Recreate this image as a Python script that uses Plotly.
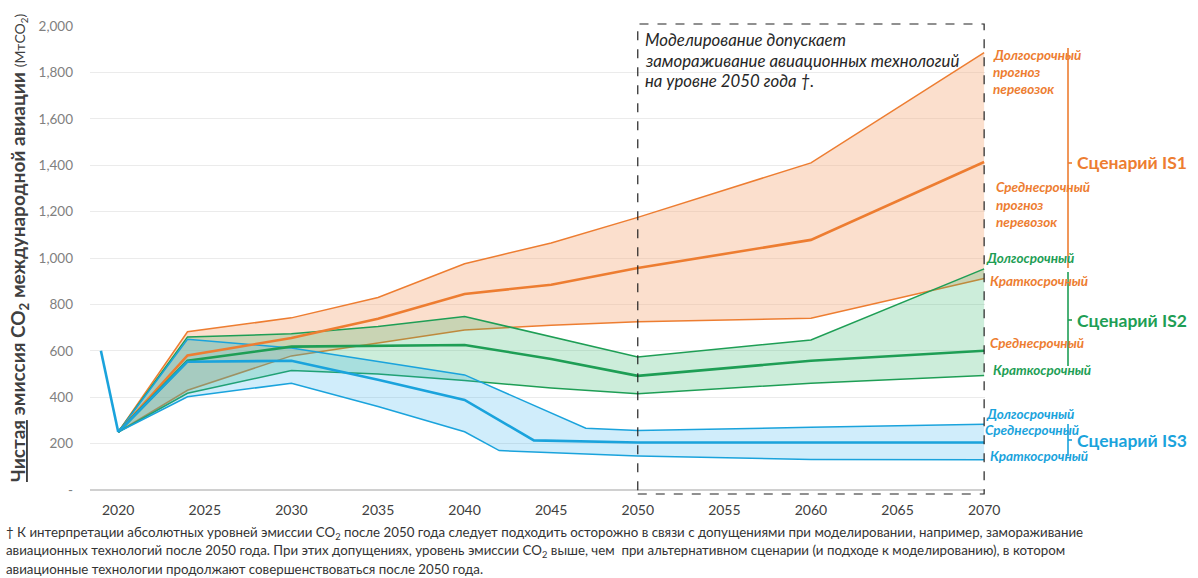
import plotly.graph_objects as go

# ---------------- data: net CO2 from international aviation, MtCO2 ----------------
hist_years = [2019, 2020]
hist_vals = [600, 250]

# IS1 scenario: long-, mid- and short-term traffic outlooks
is1_long_years = [2020, 2024, 2030, 2035, 2040, 2045, 2050, 2060, 2070]
is1_long = [250, 682, 742, 830, 975, 1065, 1175, 1410, 1885]
is1_mid_years = [2020, 2024, 2030, 2035, 2040, 2045, 2050, 2060, 2070]
is1_mid = [250, 580, 655, 738, 845, 885, 957, 1078, 1414]
is1_short_years = [2020, 2024, 2030, 2035, 2040, 2045, 2050, 2060, 2070]
is1_short = [250, 430, 578, 635, 690, 710, 725, 740, 912]

# IS2 scenario
is2_long_years = [2020, 2024, 2030, 2035, 2040, 2050, 2060, 2070]
is2_long = [250, 660, 673, 705, 748, 573, 647, 953]
is2_mid_years = [2020, 2024, 2030, 2035, 2040, 2045, 2050, 2060, 2070]
is2_mid = [250, 557, 618, 622, 625, 565, 492, 557, 600]
is2_short_years = [2020, 2024, 2030, 2035, 2040, 2045, 2050, 2060, 2070]
is2_short = [250, 417, 515, 500, 472, 440, 415, 460, 493]

# IS3 scenario
is3_long_years = [2020, 2024, 2030, 2035, 2040, 2047, 2050, 2060, 2070]
is3_long = [250, 650, 612, 553, 496, 266, 257, 270, 283]
is3_mid_years = [2020, 2024, 2030, 2035, 2040, 2044, 2050, 2060, 2070]
is3_mid = [250, 553, 557, 475, 388, 214, 205, 205, 205]
is3_short_years = [2020, 2024, 2030, 2035, 2040, 2042, 2050, 2060, 2070]
is3_short = [250, 402, 460, 360, 251, 170, 147, 132, 130]

x_ticks = [2020, 2025, 2030, 2035, 2040, 2045, 2050, 2055, 2060, 2065, 2070]
y_ticks = [0, 200, 400, 600, 800, 1000, 1200, 1400, 1600, 1800, 2000]
y_tick_text = ["-", "200", "400", "600", "800", "1,000", "1,200", "1,400",
               "1,600", "1,800", "2,000"]

# ---------------- styling ----------------
ORANGE = "#ED7D31"
GREEN = "#1E9E55"
BLUE = "#1AA3DC"
FILL_ORANGE = "rgba(246,178,135,0.42)"
FILL_GREEN = "rgba(40,180,100,0.24)"
FILL_BLUE = "rgba(40,175,235,0.22)"
FONT = "Lato"

W, H = 1198, 578
L, R, T, B = 90, 985, 26, 490  # plot area in pixels


def px(x):
    return (x - L) / (R - L)


def py(y):
    return (B - y) / (B - T)


fig = go.Figure()


def band(lo_x, lo_y, hi_x, hi_y, color, fill):
    fig.add_trace(go.Scatter(x=lo_x, y=lo_y, mode="lines",
                             line=dict(color=color, width=1.5)))
    fig.add_trace(go.Scatter(x=hi_x, y=hi_y, mode="lines", fill="tonexty",
                             fillcolor=fill, line=dict(color=color, width=1.5)))


band(is1_short_years, is1_short, is1_long_years, is1_long, ORANGE, FILL_ORANGE)
band(is2_short_years, is2_short, is2_long_years, is2_long, GREEN, FILL_GREEN)
band(is3_short_years, is3_short, is3_long_years, is3_long, BLUE, FILL_BLUE)

for xs, ys, c in [(is1_mid_years, is1_mid, ORANGE),
                  (is2_mid_years, is2_mid, GREEN),
                  (is3_mid_years, is3_mid, BLUE)]:
    fig.add_trace(go.Scatter(x=xs, y=ys, mode="lines", line=dict(color=c, width=2.6)))

fig.add_trace(go.Scatter(x=hist_years, y=hist_vals, mode="lines",
                         line=dict(color=BLUE, width=2.6)))

shapes = []
# dashed box marking the frozen-technology period
shapes.append(dict(type="rect", xref="x", yref="paper", x0=2050, x1=2070,
                   y0=py(494), y1=py(24), line=dict(color="#222222", width=1.2, dash="dash"),
                   fillcolor="rgba(0,0,0,0)", layer="above"))

# scenario brackets on the right
for top, bot, mid, col in [(48, 268, 163, ORANGE), (272, 366, 320, GREEN), (424, 456, 440, BLUE)]:
    shapes.append(dict(type="line", xref="paper", yref="paper", x0=px(1068), x1=px(1068),
                       y0=py(top), y1=py(bot), line=dict(color=col, width=1.6)))
    shapes.append(dict(type="line", xref="paper", yref="paper", x0=px(1068), x1=px(1072),
                       y0=py(mid), y1=py(mid), line=dict(color=col, width=1.6)))

annotations = []


def label(x, y, text, color, size=13.5, bold=True, italic=True, xanchor="left", **kw):
    t = text
    if bold:
        t = "<b>" + t + "</b>"
    if italic:
        t = "<i>" + t + "</i>"
    annotations.append(dict(xref="paper", yref="paper", x=px(x), y=py(y), text=t,
                            showarrow=False, xanchor=xanchor, yanchor="middle",
                            font=dict(family=FONT, size=size, color=color), **kw))


# series labels
label(991, 55, "Долгосрочный", ORANGE)
label(991, 72, "прогноз", ORANGE)
label(991, 89, "перевозок", ORANGE)
label(994, 187, "Среднесрочный", ORANGE)
label(994, 205, "прогноз", ORANGE)
label(994, 222, "перевозок", ORANGE)
label(984, 258, "Долгосрочный", GREEN)
label(988, 281, "Краткосрочный", ORANGE)
label(988, 343, "Среднесрочный", ORANGE)
label(991, 370, "Краткосрочный", GREEN)
label(984, 414, "Долгосрочный", BLUE)
label(983, 430, "Среднесрочный", BLUE)
label(988, 456, "Краткосрочный", BLUE)

# scenario names
label(1075, 163, "Сценарий IS1", ORANGE, size=17.5, italic=False)
label(1075, 320, "Сценарий IS2", GREEN, size=17.5, italic=False)
label(1075, 440, "Сценарий IS3", BLUE, size=17.5, italic=False)

# note inside the dashed box
for yy, txt in [(39, "Моделирование допускает"),
                (60, "замораживание авиационных технологий"),
                (81, "на уровне 2050 года †.")]:
    label(643, yy, txt, "#262626", size=16.8, bold=False)

# vertical axis title
annotations.append(dict(
    xref="paper", yref="paper", x=px(19), y=py(248), textangle=-90, showarrow=False,
    xanchor="center", yanchor="middle",
    text="<b><u>Чистая</u> эмиссия CO<sub>2</sub> международной авиации</b> "
         "<span style='font-size:14px'>(МтCO<sub>2</sub>)</span>",
    font=dict(family=FONT, size=19, color="#404040")))

# footnote
foot = [
    "† К интерпретации абсолютных уровней эмиссии CO<sub>2</sub> после 2050 года следует подходить "
    "осторожно в связи с допущениями при моделировании, например, замораживание",
    "авиационных технологий после 2050 года. При этих допущениях, уровень эмиссии CO<sub>2</sub> выше, "
    "чем  при альтернативном сценарии (и подходе к моделированию), в котором",
    "авиационные технологии продолжают совершенствоваться после 2050 года.",
]
for yy, txt in zip([533, 551, 569], foot):
    annotations.append(dict(xref="paper", yref="paper", x=px(4), y=py(yy), text=txt,
                            showarrow=False, xanchor="left", yanchor="middle",
                            font=dict(family=FONT, size=13.3, color="#333333")))

fig.update_layout(
    width=W, height=H,
    margin=dict(l=L, r=W - R, t=T, b=H - B, pad=0),
    paper_bgcolor="white", plot_bgcolor="white",
    showlegend=False,
    shapes=shapes, annotations=annotations,
    xaxis=dict(range=[2018.37, 2070.05], tickvals=x_ticks, showgrid=False, zeroline=False,
               showline=False, ticks="", tickfont=dict(family=FONT, size=14, color="#404040"),
               ticklabelstandoff=10),
    yaxis=dict(range=[0, 2000], tickvals=y_ticks, ticktext=y_tick_text, showgrid=True,
               gridcolor="#EBEBEB", gridwidth=1, zeroline=True, zerolinecolor="#D0D0D0",
               zerolinewidth=2, showline=False, ticks="",
               tickfont=dict(family=FONT, size=13.5, color="#808080"),
               ticklabelstandoff=16),
)

fig.write_html("out.html")
